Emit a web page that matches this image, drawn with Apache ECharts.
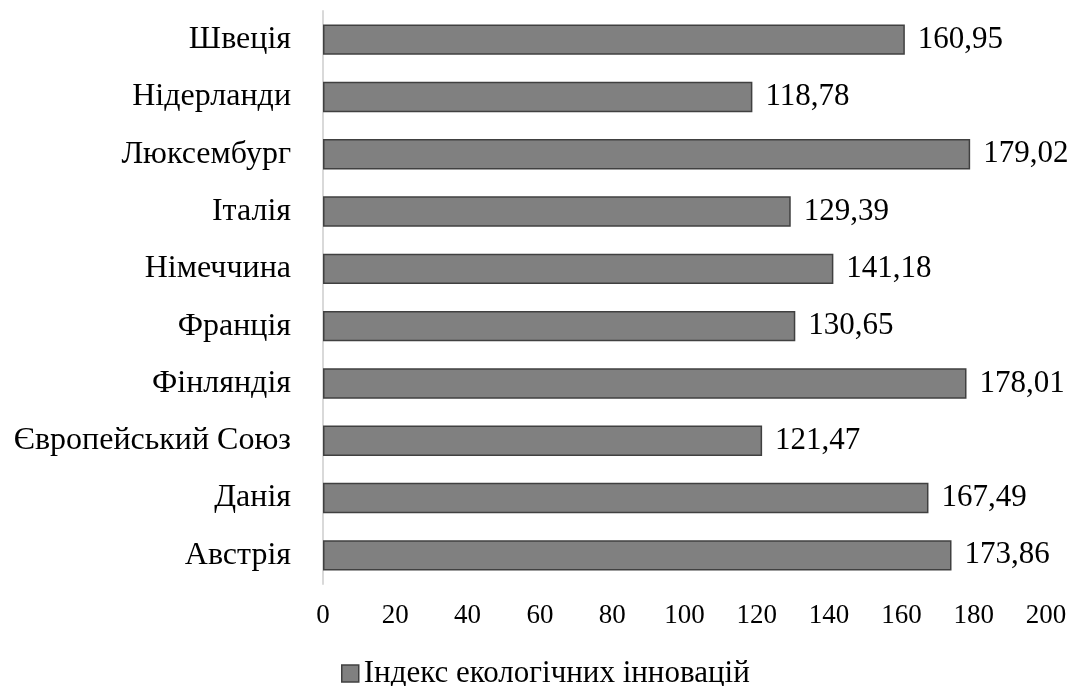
<!DOCTYPE html>
<html>
<head>
<meta charset="utf-8">
<script src="https://cdn.jsdelivr.net/npm/echarts@6/dist/echarts.min.js"></script>
<style>
  html, body { margin: 0; padding: 0; background: #fff; }
  #chart { width: 1079px; height: 686px; }
</style>
</head>
<body>
<div id="chart"></div>
<script>
// Countries, listed bottom to top as they appear on the axis
const countries = [
  'Австрія', 'Данія', 'Європейський Союз', 'Фінляндія', 'Франція',
  'Німеччина', 'Італія', 'Люксембург', 'Нідерланди', 'Швеція'
];
// Eco-innovation index values
const ecoIndex = [173.86, 167.49, 121.47, 178.01, 130.65, 141.18, 129.39, 179.02, 118.78, 160.95];
const seriesName = 'Індекс екологічних інновацій';
const xTicks = { min: 0, max: 200, interval: 20 };

const serif = "'Liberation Serif', 'Times New Roman', serif";
const fmt = v => v.toFixed(2).replace('.', ',');

const chart = echarts.init(document.getElementById('chart'));
chart.setOption({
  animation: false,
  backgroundColor: '#ffffff',
  textStyle: { fontFamily: serif, color: '#000' },
  grid: { left: 323, right: 33, top: 11, bottom: 102, containLabel: false },
  xAxis: {
    type: 'value',
    min: xTicks.min, max: xTicks.max, interval: xTicks.interval,
    axisLine: { show: false },
    axisTick: { show: false },
    splitLine: { show: false },
    axisLabel: { fontFamily: serif, fontSize: 27, color: '#000', margin: 18 }
  },
  yAxis: {
    type: 'category',
    data: countries,
    axisLine: { show: true, lineStyle: { color: '#d9d9d9', width: 2 } },
    axisTick: { show: false },
    axisLabel: { fontFamily: serif, fontSize: 32, color: '#000', margin: 32 }
  },
  legend: {
    top: 653,
    left: 336,
    itemWidth: 17,
    itemHeight: 17,
    icon: 'rect',
    itemStyle: { color: '#808080', borderColor: '#404040', borderWidth: 1.5 },
    textStyle: { fontFamily: serif, fontSize: 31, color: '#000' },
    data: [seriesName]
  },
  series: [{
    name: seriesName,
    type: 'bar',
    data: ecoIndex,
    barCategoryGap: '47%',
    itemStyle: { color: '#808080', borderColor: '#404040', borderWidth: 1.5 },
    label: {
      show: true,
      position: 'right',
      distance: 13,
      fontFamily: serif,
      fontSize: 31,
      color: '#000',
      formatter: p => fmt(p.value)
    }
  }]
});
</script>
</body>
</html>
